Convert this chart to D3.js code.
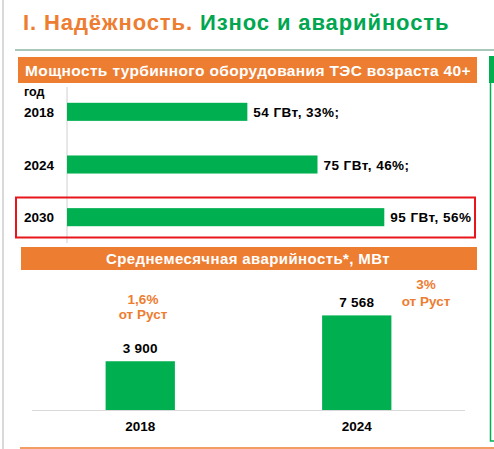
<!DOCTYPE html>
<html>
<head>
<meta charset="utf-8">
<script src="https://cdn.jsdelivr.net/npm/d3@7"></script>
<style>
body{margin:0;background:#fff;}
text{font-family:"Liberation Sans",Arial,sans-serif;font-weight:bold;}
</style>
</head>
<body>
<div id="chart"></div>
<script>
// top chart: turbine capacity of plants aged 40+
var years=["2018","2024","2030"];
var capacity=[54,75,95];
var capLabels=["54 ГВт, 33%;","75 ГВт, 46%;","95 ГВт, 56%"];
// bottom chart: monthly average failures, MW
var failYears=["2018","2024"];
var failValues=[3900,7568];
var failLabels=["3 900","7 568"];
var shareLabels=[["1,6%","от Руст"],["3%","от Руст"]];

var orange="#ED7D31";
var green="#00B050";

var svg=d3.select("#chart").append("svg")
			.attr("width",494)
			.attr("height",449);

// page frame bits
svg.append("line").attr("x1",3).attr("x2",3).attr("y1",0).attr("y2",449)
	.attr("stroke","#d9d9d9").attr("stroke-width",2);
svg.append("line").attr("x1",15).attr("x2",494).attr("y1",50).attr("y2",50)
	.attr("stroke","#8fb3a3").attr("stroke-width",1.5);
svg.append("line").attr("x1",20).attr("x2",494).attr("y1",448).attr("y2",448)
	.attr("stroke",orange).attr("stroke-width",1.5);
svg.append("rect").attr("x",489).attr("y",56).attr("width",5).attr("height",27).attr("fill",green);
svg.append("polyline").attr("points","490.5,83 490.5,441 494,441")
	.attr("fill","none").attr("stroke",green).attr("stroke-width",1.5);

// title
var title=svg.append("text").attr("x",23).attr("y",30).attr("font-size",22).attr("letter-spacing",0.9);
title.append("tspan").attr("fill",orange).text("I. Надёжность. ");
title.append("tspan").attr("fill","#00A650").text("Износ и аварийность");

// header bands
svg.append("rect").attr("x",18).attr("y",57).attr("width",459).attr("height",26).attr("fill",orange);
svg.append("text").attr("x",248).attr("y",76).attr("text-anchor","middle")
	.attr("font-size",15.5).attr("letter-spacing",0.35).attr("fill","#fff")
	.text("Мощность турбинного оборудования ТЭС возраста 40+");

svg.append("rect").attr("x",21).attr("y",247).attr("width",456).attr("height",23).attr("fill",orange);
svg.append("text").attr("x",248).attr("y",264).attr("text-anchor","middle")
	.attr("font-size",15).attr("letter-spacing",0.4).attr("fill","#fff")
	.text("Среднемесячная аварийность*, МВт");

// horizontal bars
var x=d3.scaleLinear().domain([0,100]).range([67,401]);
var y=d3.scaleBand().domain(years).range([87,242]).paddingInner(0.657).paddingOuter(0.3);

svg.append("line").attr("x1",67).attr("x2",67).attr("y1",87).attr("y2",243)
	.attr("stroke","#d0d0d0").attr("stroke-width",1);

svg.append("text").attr("x",24).attr("y",96).attr("font-size",12.5).attr("fill","#000").text("год");

svg.selectAll(".hbar").data(capacity).enter().append("rect")
	.attr("class","hbar")
	.attr("x",x(0))
	.attr("y",function(d,i){return y(years[i]);})
	.attr("width",function(d){return x(d)-x(0);})
	.attr("height",y.bandwidth())
	.attr("fill",green);

svg.selectAll(".ylab").data(years).enter().append("text")
	.attr("class","ylab")
	.attr("x",24)
	.attr("y",function(d){return y(d)+y.bandwidth()/2+5;})
	.attr("font-size",13.5).attr("fill","#000")
	.text(function(d){return d;});

svg.selectAll(".vlab").data(capacity).enter().append("text")
	.attr("class","vlab")
	.attr("x",function(d){return x(d)+6;})
	.attr("y",function(d,i){return y(years[i])+y.bandwidth()/2+5;})
	.attr("font-size",13.5).attr("letter-spacing",0.45).attr("fill","#000")
	.text(function(d,i){return capLabels[i];});

// highlight box around 2030
svg.append("rect").attr("x",16).attr("y",197.5).attr("width",459).attr("height",40)
	.attr("fill","none").attr("stroke","#E8161B").attr("stroke-width",2);

// vertical bars
var bx=d3.scaleBand().domain(failYears).range([32,465]).paddingInner(0.68).paddingOuter(0.34);
var by=d3.scaleLinear().domain([0,8000]).range([410,310]);

svg.append("line").attr("x1",32).attr("x2",465).attr("y1",410.5).attr("y2",410.5)
	.attr("stroke","#d9d9d9").attr("stroke-width",1);

svg.selectAll(".vbar").data(failValues).enter().append("rect")
	.attr("class","vbar")
	.attr("x",function(d,i){return bx(failYears[i]);})
	.attr("y",function(d){return by(d);})
	.attr("width",bx.bandwidth())
	.attr("height",function(d){return by(0)-by(d);})
	.attr("fill",green);

svg.selectAll(".blab").data(failValues).enter().append("text")
	.attr("class","blab")
	.attr("x",function(d,i){return bx(failYears[i])+bx.bandwidth()/2;})
	.attr("y",function(d){return by(d)-8;})
	.attr("text-anchor","middle").attr("font-size",13.5).attr("letter-spacing",0.2).attr("fill","#000")
	.text(function(d,i){return failLabels[i];});

svg.selectAll(".xlab").data(failYears).enter().append("text")
	.attr("class","xlab")
	.attr("x",function(d){return bx(d)+bx.bandwidth()/2;})
	.attr("y",431)
	.attr("text-anchor","middle").attr("font-size",13.5).attr("fill","#000")
	.text(function(d){return d;});

// share of installed capacity notes
var notePos=[[143,304],[426,289]];
shareLabels.forEach(function(lines,i){
	var t=svg.append("text")
			.attr("x",notePos[i][0]).attr("y",notePos[i][1])
			.attr("text-anchor","middle").attr("font-size",13.5).attr("fill",orange);
	lines.forEach(function(s,j){
		t.append("tspan").attr("x",notePos[i][0]).attr("dy",j==0?0:(i==0?15:17)).text(s);
	});
});
</script>
</body>
</html>
